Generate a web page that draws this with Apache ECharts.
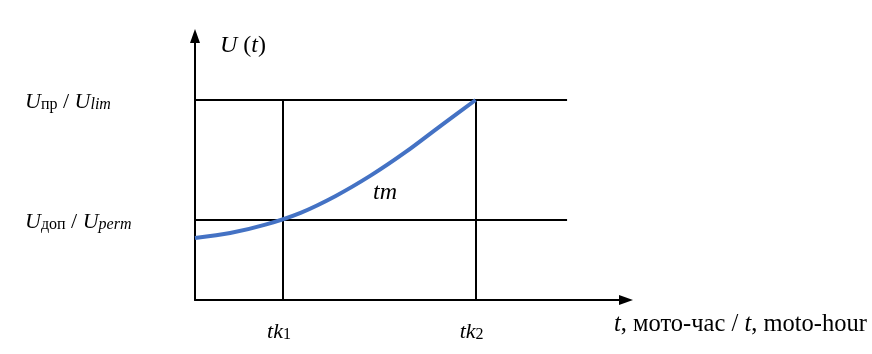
<!DOCTYPE html>
<html>
<head>
<meta charset="utf-8">
<script src="https://cdn.jsdelivr.net/npm/echarts@6/dist/echarts.min.js"></script>
<style>html,body{margin:0;padding:0;background:#fff;}#c{width:872px;height:354px;}</style>
</head>
<body>
<div id="c"></div>
<script>
// Curve U(t)
const tValues = [0, 0.4, 0.8, 1.2, 1.6, 2.0, 2.4, 2.8, 3.19];
const uValues = [0.775, 0.8375, 0.9425, 1.09, 1.301, 1.5575, 1.854, 2.184, 2.5];
// Levels: U_perm, U_lim
const levels = [1, 2.5];
const levelLabels = ['{i|U}{sub|доп}{n| / }{i|U}{subi|perm}', '{i|U}{sub|пр}{n| / }{i|U}{subi|lim}'];
// Times tk1, tk2
const tkValues = [1, 3.19];
const tkLabels = ['{i|tk}{sub|1}', '{i|tk}{sub|2}'];
const levelLineEnd = 4.23;
const tmPoint = [2.16, 1.35];
const xMax = 4.9, yMax = 3.3;

const FONT = 'Liberation Serif';
const mk = (main, sub) => ({
  i: {fontFamily: FONT, fontStyle: 'italic', fontSize: main, lineHeight: 26, verticalAlign: 'bottom', color: '#000'},
  n: {fontFamily: FONT, fontSize: main, lineHeight: 26, verticalAlign: 'bottom', color: '#000'},
  sub: {fontFamily: FONT, fontSize: sub, lineHeight: 14, verticalAlign: 'bottom', color: '#000'},
  subi: {fontFamily: FONT, fontStyle: 'italic', fontSize: sub, lineHeight: 14, verticalAlign: 'bottom', color: '#000'}
});
const richY = mk(22, 16);
const richX = mk(22, 16);
const richName = mk(24, 16);
const richXName = mk(24.5, 16);

const lineData = [];
levels.forEach(v => lineData.push([{coord: [0, v]}, {coord: [levelLineEnd, v]}]));
tkValues.forEach(v => lineData.push([{coord: [v, 0]}, {coord: [v, levels[1]]}]));

const chart = echarts.init(document.getElementById('c'), null, {renderer: 'canvas'});
chart.setOption({
  animation: false,
  backgroundColor: '#fff',
  grid: {left: 195, top: 36, width: 431, height: 264, containLabel: false, outerBoundsMode: 'none'},
  xAxis: {
    type: 'value', min: 0, max: xMax,
    name: '{i|t}{n|, мото-час / }{i|t}{n|, moto-hour}',
    nameLocation: 'end', nameGap: -12,
    nameTextStyle: {rich: richXName, align: 'left', verticalAlign: 'middle', padding: [48, 0, 0, 0]},
    axisLine: {lineStyle: {color: '#000', width: 2}, symbol: ['none', 'triangle'], symbolSize: [10, 14]},
    axisTick: {show: false},
    splitLine: {show: false},
    axisLabel: {
      customValues: tkValues, margin: 17, padding: [0, 8, 0, 0],
      formatter: v => tkLabels[tkValues.indexOf(v)] || '',
      rich: richX
    }
  },
  yAxis: {
    type: 'value', min: 0, max: yMax,
    name: '{i|U}{n| (}{i|t}{n|)}',
    nameLocation: 'end', nameGap: -9,
    nameTextStyle: {rich: richName, align: 'left', verticalAlign: 'middle', padding: [0, 0, 0, 25]},
    axisLine: {lineStyle: {color: '#000', width: 2}, symbol: ['none', 'triangle'], symbolSize: [10, 14]},
    axisTick: {show: false},
    splitLine: {show: false},
    axisLabel: {
      customValues: levels, margin: 170, align: 'left',
      formatter: v => levelLabels[levels.indexOf(v)] || '',
      rich: richY
    }
  },
  series: [
    {
      type: 'line', data: [], silent: true,
      markLine: {
        silent: true, symbol: 'none', label: {show: false},
        lineStyle: {color: '#000', width: 2, type: 'solid'},
        data: lineData
      }
    },
    {
      type: 'line', smooth: 0.3, showSymbol: false, silent: true,
      data: tValues.map((t, i) => [t, uValues[i]]),
      lineStyle: {color: '#4472c4', width: 4},
      z: 5,
      markPoint: {
        symbol: 'circle', symbolSize: 0, silent: true,
        data: [{coord: tmPoint, value: 'tm'}],
        label: {show: true, position: 'inside', formatter: '{i|tm}', rich: richName}
      }
    }
  ]
});
</script>
</body>
</html>
